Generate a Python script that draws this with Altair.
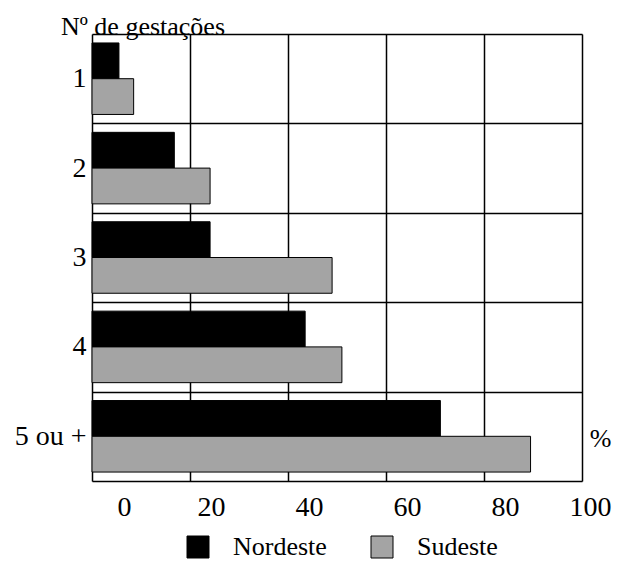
import altair as alt
import pandas as pd

categories = ["1", "2", "3", "4", "5 ou +"]
series = ["Nordeste", "Sudeste"]
nordeste = [5.5, 16.8, 24.1, 43.5, 71.1]
sudeste = [8.5, 24.1, 49.0, 51.0, 89.5]
x_ticks = [0, 20, 40, 60, 80, 100]

df = pd.DataFrame({
    "gest": categories * 2,
    "regiao": [series[0]] * len(categories) + [series[1]] * len(categories),
    "pct": nordeste + sudeste,
})

serif = "Liberation Serif"

chart = alt.Chart(df).mark_bar(stroke="black", strokeWidth=1).encode(
    x=alt.X(
        "pct:Q",
        scale=alt.Scale(domain=[0, 100], nice=False, zero=True),
        axis=alt.Axis(
            values=x_ticks, title="%", titleX=508, titleY=-56, titleAngle=0,
            titleFont=serif, titleFontSize=26, titleFontWeight="normal", titleColor="black",
            labelFont=serif, labelFontSize=28, labelColor="black", labelPadding=12,
            labelFlush=False, ticks=False, domain=False,
            grid=True, gridColor="black", gridWidth=1.5, gridOpacity=1,
            labelOffset={"condition": [{"test": "datum.value === 0", "value": 32},
                                       {"test": "datum.value === 100", "value": 8}],
                         "value": 21},
        ),
    ),
    y=alt.Y(
        "gest:N", sort=categories,
        scale=alt.Scale(paddingInner=0, paddingOuter=0),
        axis=alt.Axis(
            title=None, tickBand="extent", ticks=False, domain=False,
            grid=True, gridColor="black", gridWidth=1.5, gridOpacity=1,
            labelFont=serif, labelFontSize=28, labelColor="black", labelPadding=6,
        ),
    ),
    yOffset=alt.YOffset("regiao:N", sort=series,
                        scale=alt.Scale(paddingOuter=0.25, paddingInner=0)),
    color=alt.Color(
        "regiao:N",
        scale=alt.Scale(domain=series, range=["#000000", "#a4a4a4"]),
        legend=alt.Legend(
            orient="none", legendX=93, legendY=500, direction="horizontal", title=None,
            symbolType="square", symbolSize=484, symbolStrokeColor="black",
            symbolStrokeWidth=1, symbolOpacity=1,
            labelFont=serif, labelFontSize=26, labelColor="black",
            labelOffset=22, columnPadding=42,
        ),
    ),
).properties(
    width=490,
    height=447,
    autosize=alt.AutoSizeParams(type="none"),
    padding={"left": 84, "top": 26, "right": 32, "bottom": 80},
    title=alt.TitleParams("Nº de gestações", anchor="start", frame="group", dx=-31, dy=21,
                          offset=1, font=serif, fontSize=26, fontWeight="normal",
                          color="black"),
).configure_view(
    stroke="black", strokeWidth=2
).configure(background="white")

chart.save("out.html", embed_options={"renderer": "svg", "actions": False})
